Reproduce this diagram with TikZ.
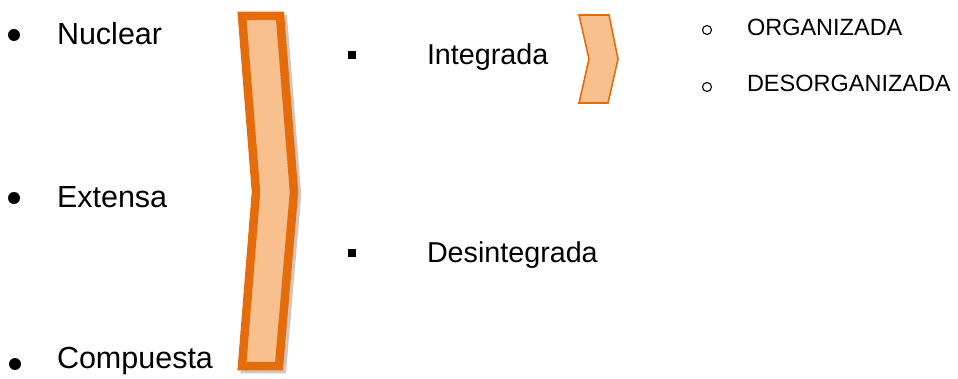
\documentclass[tikz,border=0pt]{standalone}
\usepackage{fontspec}
\setmainfont{Liberation Sans}
\definecolor{chevfill}{RGB}{249,192,143}
\definecolor{chevline}{RGB}{228,108,10}
\definecolor{shadowc}{RGB}{150,110,80}
\begin{document}
\begin{tikzpicture}[x=1pt,y=-1pt,
  lbl/.style={anchor=base west,inner sep=0pt,outer sep=0pt},
  big/.style={lbl,font=\fontsize{30.5}{36}\selectfont},
  mid/.style={lbl,font=\fontsize{28.7}{34}\selectfont},
  small/.style={lbl,font=\fontsize{23.5}{28}\selectfont},
  dotb/.style={circle,fill=black,inner sep=0pt,minimum size=12pt},
  sqb/.style={rectangle,fill=black,inner sep=0pt,minimum size=8pt},
  circb/.style={circle,draw=black,line width=1.1pt,inner sep=0pt,minimum size=9pt},
  bigchev/.style={draw=chevline,fill=chevfill,line width=8.5pt,line join=miter},
  smallchev/.style={draw=chevline,fill=chevfill,line width=1.6pt,line join=miter}]
\useasboundingbox (0,0) rectangle (958,379);
% left list
\node[dotb] (b1) at (14,35) {};
\node[big] (t1) at (57,45) {Nuclear};
\node[dotb] (b2) at (14,198) {};
\node[big] (t2) at (57,208) {Extensa};
\node[dotb] (b3) at (15,364) {};
\node[big] (t3) at (57,368) {Compuesta};
% big chevron with shadow
\draw[draw=shadowc,line width=8.5pt,opacity=0.4]
  (245,19) -- (283,19) -- (297,195) -- (282,369) -- (245,369) -- (259,195) -- cycle;
\draw[bigchev] (242,16) -- (280,16) -- (294,192) -- (279,366) -- (242,366) -- (256,192) -- cycle;
% middle list
\node[sqb] (s1) at (352,55) {};
\node[mid] (m1) at (427,65) {Integrada};
\node[sqb] (s2) at (352,253) {};
\node[mid] (m2) at (427,263) {Desintegrada};
% small chevron
\draw[smallchev] (579,15) -- (609,15) -- (618,59) -- (608,103) -- (579,103) -- (589,59) -- cycle;
% right list
\node[circb] (c1) at (707,30) {};
\node[small] (r1) at (747,36) {ORGANIZADA};
\node[circb] (c2) at (707,87) {};
\node[small] (r2) at (747,92) {DESORGANIZADA};
\end{tikzpicture}
\end{document}
